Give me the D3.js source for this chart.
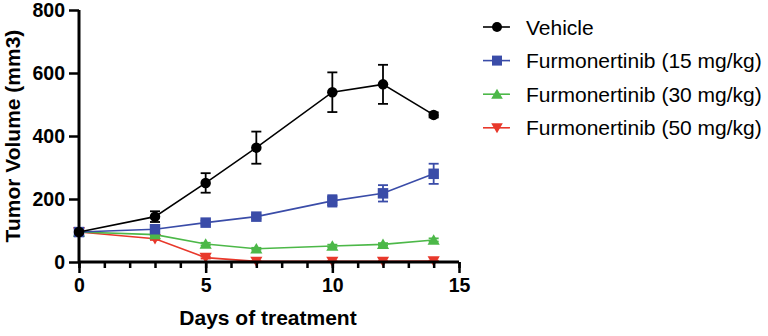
<!DOCTYPE html>
<html>
<head>
<meta charset="utf-8">
<script src="https://cdn.jsdelivr.net/npm/d3@7"></script>
<style>
  html, body { margin: 0; padding: 0; background: #fff; }
  svg { display: block; font-family: "Liberation Sans", Arial, Helvetica, sans-serif; }
</style>
</head>
<body>
<svg id="chart" width="768" height="336"></svg>
<script>
// Tumor volume over days of treatment, mean ± SEM per group
const days = [0, 3, 5, 7, 10, 12, 14];

const seriesNames = [
  "Vehicle",
  "Furmonertinib (15 mg/kg)",
  "Furmonertinib (30 mg/kg)",
  "Furmonertinib (50 mg/kg)"
];
const vehicleMean = [95, 144, 251, 363, 539, 564, 467];
const vehicleErr  = [4, 17, 31, 51, 63, 62, 8];
const f15Mean = [95, 104, 125, 144, 194, 218, 280];
const f15Err  = [4, 10, 6, 6, 18, 26, 32];
const f30Mean = [95, 87, 57, 42, 51, 56, 70];
const f30Err  = [3, 4, 4, 3, 4, 4, 5];
const f50Mean = [95, 74, 14, 2, 2, 2, 3];
const f50Err  = [3, 4, 3, 1, 1, 1, 1];

const xTicks = [0, 5, 10, 15];
const yTicks = [0, 200, 400, 600, 800];

const colors = ["#000000", "#3a4ca8", "#4cb848", "#e8382b"];
const symbols = ["circle", "square", "triangle", "triangleDown"];

const svg = d3.select("#chart");
const x = d3.scaleLinear().domain([0, 15]).range([79, 459]);
const y = d3.scaleLinear().domain([0, 800]).range([262, 10]);

const groups = seriesNames.map((name, i) => ({
  name,
  color: colors[i],
  symbol: symbols[i],
  mean: [vehicleMean, f15Mean, f30Mean, f50Mean][i],
  err: [vehicleErr, f15Err, f30Err, f50Err][i]
}));

function markerPath(kind, size) {
  const s = size;
  if (kind === "circle") return d3.symbol(d3.symbolCircle, Math.PI * (s / 2) * (s / 2))();
  if (kind === "square") return `M${-s/2},${-s/2}H${s/2}V${s/2}H${-s/2}Z`;
  if (kind === "triangle") return `M0,${-s*0.55}L${s*0.58},${s*0.45}L${-s*0.58},${s*0.45}Z`;
  return `M0,${s*0.55}L${s*0.58},${-s*0.45}L${-s*0.58},${-s*0.45}Z`;
}

// series: draw the lower-dose groups first so the vehicle sits on top
const plot = svg.append("g");
const line = d3.line().x(d => x(d.day)).y(d => y(d.v));
groups.slice().reverse().forEach(g => {
  const pts = days.map((day, k) => ({ day, v: g.mean[k], e: g.err[k] }));
  const gg = plot.append("g");
  gg.append("path")
    .attr("d", line(pts))
    .attr("fill", "none")
    .attr("stroke", g.color)
    .attr("stroke-width", 1.6);
  // error bars
  const eb = gg.selectAll(".eb").data(pts).enter().append("g");
  eb.append("line")
    .attr("x1", d => x(d.day)).attr("x2", d => x(d.day))
    .attr("y1", d => y(d.v + d.e)).attr("y2", d => y(Math.max(0, d.v - d.e)))
    .attr("stroke", g.color).attr("stroke-width", 1.8);
  eb.append("line")
    .attr("x1", d => x(d.day) - 5).attr("x2", d => x(d.day) + 5)
    .attr("y1", d => y(d.v + d.e)).attr("y2", d => y(d.v + d.e))
    .attr("stroke", g.color).attr("stroke-width", 1.8);
  eb.append("line")
    .attr("x1", d => x(d.day) - 5).attr("x2", d => x(d.day) + 5)
    .attr("y1", d => y(Math.max(0, d.v - d.e))).attr("y2", d => y(Math.max(0, d.v - d.e)))
    .attr("stroke", g.color).attr("stroke-width", 1.8);
  gg.selectAll(".m").data(pts).enter().append("path")
    .attr("transform", d => `translate(${x(d.day)},${y(d.v)})`)
    .attr("d", markerPath(g.symbol, 10.5))
    .attr("fill", g.color);
});

// axes
const xAxisMajor = d3.axisBottom(x).tickValues(xTicks).tickSize(11).tickPadding(5).tickFormat(d3.format("d"));
const xAxisMinor = d3.axisBottom(x).tickValues(d3.range(0, 16)).tickSize(6).tickFormat("");
const yAxis = d3.axisLeft(y).tickValues(yTicks).tickSize(10).tickPadding(4).tickFormat(d3.format("d"));

const gxMinor = svg.append("g").attr("transform", `translate(0,${y(0)})`).call(xAxisMinor);
const gx = svg.append("g").attr("transform", `translate(0,${y(0)})`).call(xAxisMajor);
const gy = svg.append("g").attr("transform", `translate(${x(0)},0)`).call(yAxis);

[gxMinor, gx, gy].forEach(a => {
  a.selectAll(".domain").attr("stroke", "#000").attr("stroke-width", 3);
  a.selectAll(".tick line").attr("stroke", "#000").attr("stroke-width", 2.5);
  a.selectAll("text")
    .attr("fill", "#000")
    .style("font-size", "19.5px")
    .style("font-weight", "bold")
    .style("font-family", "'Liberation Sans', Arial, sans-serif");
});
gx.select(".domain").attr("d", `M${x(0)},0H${x(15)}`);
gxMinor.select(".domain").remove();
gy.select(".domain").attr("d", `M0,${y(0)}V${y(800)}`);

// axis titles
svg.append("text")
  .attr("x", 268).attr("y", 325)
  .attr("text-anchor", "middle")
  .style("font-size", "21px").style("font-weight", "bold")
  .text("Days of treatment");
svg.append("text")
  .attr("transform", `translate(20,${136}) rotate(-90)`)
  .attr("text-anchor", "middle")
  .style("font-size", "21px").style("font-weight", "bold")
  .text("Tumor Volume (mm3)");

// legend
const legend = svg.append("g");
groups.forEach((g, i) => {
  const ly = 27 + i * 33.6;
  legend.append("line")
    .attr("x1", 483).attr("x2", 510).attr("y1", ly).attr("y2", ly)
    .attr("stroke", g.color).attr("stroke-width", 1.6);
  legend.append("path")
    .attr("transform", `translate(497,${ly})`)
    .attr("d", markerPath(g.symbol, 10))
    .attr("fill", g.color);
  legend.append("text")
    .attr("x", 526).attr("y", ly)
    .attr("dy", "0.36em")
    .style("font-size", "21px")
    .text(g.name);
});
</script>
</body>
</html>
